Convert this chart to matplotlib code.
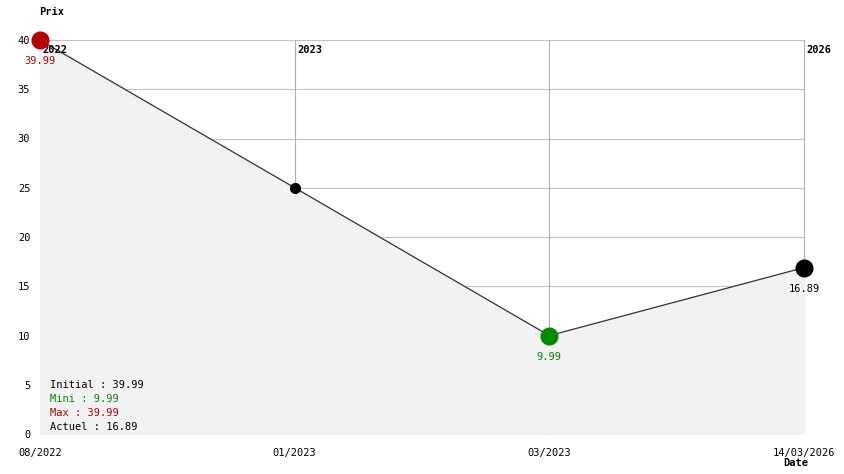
import numpy as np
import matplotlib.pyplot as plt

plt.rcParams['font.family'] = ['DejaVu Sans Mono']

dates = ['08/2022', '01/2023', '03/2023', '14/03/2026']
prices = [39.99, 25.0, 9.99, 16.89]
years = {0: '2022', 1: '2023', 3: '2026'}
stats = [('Initial : 39.99', 'black'), ('Mini : 9.99', '#008a00'),
         ('Max : 39.99', '#b40000'), ('Actuel : 16.89', 'black')]

W, H = 844, 474
fig = plt.figure(figsize=(W / 100, H / 100), dpi=100)
ax = fig.add_axes([40 / W, 40 / H, (804 - 40) / W, (434 - 40) / H])

x = np.arange(len(prices))
fs = 7.5

ax.set_xlim(0, len(prices) - 1)
ax.set_ylim(0, 40)
ax.set_yticks(range(0, 45, 5))
ax.set_xticks(x)
ax.set_xticklabels(dates, fontsize=fs)
ax.tick_params(axis='both', length=0, labelsize=fs)
ax.tick_params(axis='x', pad=10)
ax.tick_params(axis='y', pad=7)
for s in ax.spines.values():
    s.set_visible(False)

for yv in range(5, 45, 5):
    ax.axhline(yv, color='#c4c4c4', lw=0.8, zorder=1)
for xi in x[1:]:
    ax.axvline(xi, color='#b0b0b0', lw=0.8, zorder=1, clip_on=False)

ax.fill_between(x, prices, 0, color='#f2f2f2', zorder=2)
ax.plot(x, prices, color='#333333', lw=0.9, zorder=3)

for xi, yr in years.items():
    ax.text(xi + 0.01, 39.5, yr, fontsize=fs, fontweight='bold', va='top', ha='left', zorder=4)

i_max = int(np.argmax(prices))
i_min = int(np.argmin(prices))
i_last = len(prices) - 1
for i in range(len(prices)):
    if i == i_max:
        c, ms = '#b40000', 12
    elif i == i_min:
        c, ms = '#008a00', 12
    elif i == i_last:
        c, ms = 'black', 12
    else:
        c, ms = 'black', 7
    ax.plot(x[i], prices[i], 'o', color=c, ms=ms, zorder=5, clip_on=False)
    if ms > 10:
        ax.text(x[i], prices[i] - 1.65, f'{prices[i]:.2f}', color=c, fontsize=fs,
                ha='center', va='top', zorder=6)

for k, (t, c) in enumerate(stats):
    ax.text(10 / 764, (49 - 14 * k) / 394, t, color=c, fontsize=fs,
            transform=ax.transAxes, va='center', ha='left', zorder=6)

fig.text(39 / W, 1 - 12 / H, 'Prix', fontsize=fs, fontweight='bold', va='center', ha='left')
fig.text(783 / W, 1 - 463 / H, 'Date', fontsize=fs, fontweight='bold', va='center', ha='left')

fig.savefig('out.png', dpi=100)
